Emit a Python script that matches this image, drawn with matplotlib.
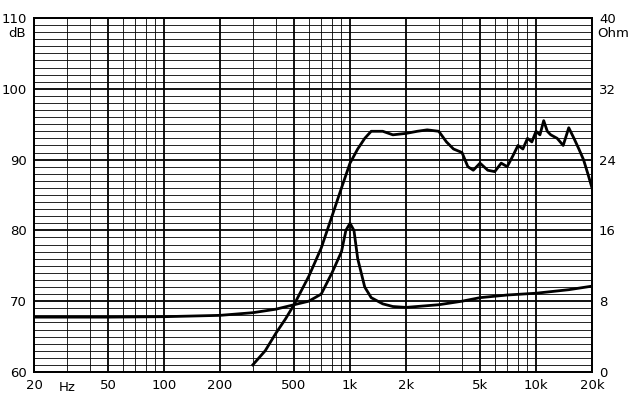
import matplotlib
matplotlib.use("Agg")
import matplotlib.pyplot as plt
import numpy as np

spl_f = [300, 350, 400, 450, 500, 600, 700, 800, 900, 1000, 1100, 1200, 1300, 1500, 1700, 2000, 2300, 2600, 3000, 3300, 3600, 4000, 4300, 4600, 5000, 5500, 6000, 6500, 7000, 7500, 8000, 8500, 9000, 9500, 10000, 10500, 11000, 11500, 12000, 13000, 14000, 15000, 16000, 17000, 18000, 19000, 20000]
spl_db = [61, 63, 65.5, 67.5, 69.5, 73.5, 77.5, 82, 86, 89.5, 91.5, 93, 94, 94, 93.5, 93.7, 94, 94.2, 94, 92.5, 91.5, 91, 89, 88.5, 89.5, 88.5, 88.3, 89.5, 89, 90.5, 92, 91.5, 93, 92.5, 94, 93.5, 95.5, 94, 93.5, 93, 92, 94.5, 93, 91.5, 90, 88, 86]
imp_f = [20, 50, 100, 200, 300, 400, 500, 600, 700, 800, 900, 950, 1000, 1050, 1100, 1200, 1300, 1500, 1700, 2000, 3000, 4000, 5000, 7000, 10000, 15000, 20000]
imp_ohm = [6.2, 6.2, 6.25, 6.4, 6.7, 7.1, 7.6, 8.0, 8.8, 11.2, 13.6, 16, 16.8, 16, 12.8, 9.6, 8.4, 7.7, 7.4, 7.3, 7.6, 8.0, 8.4, 8.7, 8.9, 9.3, 9.7]
xticks = [20, 50, 100, 200, 500, 1000, 2000, 5000, 10000, 20000]
xlabels = ["20", "50", "100", "200", "500", "1k", "2k", "5k", "10k", "20k"]

fig = plt.figure(figsize=(6.32, 4.12), dpi=100)
ax = fig.add_axes([34/632, 40/412, 558/632, 354/412])
ax.set_xscale("log")
ax.set_xlim(20, 20000)
ax.set_ylim(60, 110)
for d in range(60, 111):
    ax.axhline(d, color="black", lw=1.3 if d % 10 == 0 else 0.6, zorder=1)
for dec in [10, 100, 1000, 10000]:
    for m in range(1, 10):
        f = dec * m
        if 20 <= f <= 20000:
            ax.axvline(f, color="black", lw=1.3 if f in xticks else 0.6, zorder=1)
ax.plot(spl_f, spl_db, color="black", lw=2, zorder=3)
ax.plot(imp_f, [60 + o * 1.25 for o in imp_ohm], color="black", lw=2, zorder=3)
ax.set_xticks(xticks)
ax.set_xticklabels(xlabels)
ax.xaxis.set_minor_locator(matplotlib.ticker.NullLocator())
ax.set_yticks(range(60, 111, 10))
ax.tick_params(length=0, labelsize=9.5, pad=5)
ax.text(30, -0.025, "Hz", transform=ax.get_xaxis_transform(), ha="center", va="top", fontsize=9.5)
ax.text(-0.015, 0.955, "dB", transform=ax.transAxes, ha="right", va="center", fontsize=9.5)
ax2 = ax.twinx()
ax2.set_ylim(0, 40)
ax2.set_yticks(range(0, 41, 8))
ax2.tick_params(length=0, labelsize=9.5, pad=5)
ax2.text(1.01, 0.955, "Ohm", transform=ax.transAxes, ha="left", va="center", fontsize=9.5)
for a in (ax, ax2):
    for s in a.spines.values():
        s.set_linewidth(1.3)
fig.savefig("out.png", dpi=100)
